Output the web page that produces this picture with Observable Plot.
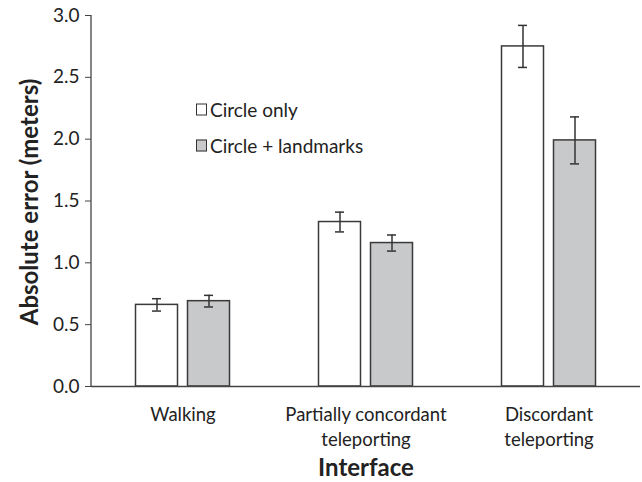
<!DOCTYPE html>
<html><head><meta charset="utf-8">
<script src="https://cdn.jsdelivr.net/npm/d3@7"></script>
<script src="https://cdn.jsdelivr.net/npm/@observablehq/plot@0.6"></script>
<style>
body{margin:0;background:#fff;}
#wrap{position:relative;width:642px;height:482px;font-family:Lato,sans-serif;color:#222;overflow:hidden;}
#wrap svg{position:absolute;left:0;top:0;}
.ylab{position:absolute;left:28px;top:202px;transform:translate(-50%,-50%) rotate(-90deg);font-weight:bold;font-size:24px;white-space:nowrap;}
.xlab{position:absolute;left:366px;top:466px;transform:translate(-50%,-50%);font-weight:bold;font-size:24px;white-space:nowrap;}
.leg{position:absolute;left:196px;font-size:19px;white-space:nowrap;display:flex;align-items:center;transform:translateY(-50%);}
.sw{width:9px;height:10px;border:1px solid #333;margin-right:3px;}
</style></head><body><div id="wrap"></div>
<script>
const groups = ["Walking", "Partially concordant\nteleporting", "Discordant\nteleporting"];
const seriesNames = ["Circle only", "Circle + landmarks"];
const seriesColors = ["#ffffff", "#c8c9cb"];
const circleOnlyMean = [0.66, 1.33, 2.75];
const circleOnlyErr = [0.05, 0.08, 0.17];
const landmarksMean = [0.69, 1.16, 1.99];
const landmarksErr = [0.047, 0.065, 0.19];
const yTicks = [0, 0.5, 1.0, 1.5, 2.0, 2.5, 3.0];
const yLabel = "Absolute error (meters)";
const xLabel = "Interface";

const rows = groups.flatMap((g, i) => [
  {group: g, series: seriesNames[0], value: circleOnlyMean[i], err: circleOnlyErr[i]},
  {group: g, series: seriesNames[1], value: landmarksMean[i], err: landmarksErr[i]}
]);
const rowsA = rows.filter(d => d.series === seriesNames[0]);
const rowsB = rows.filter(d => d.series === seriesNames[1]);

const yLine = (index, {y}, values, dims) => {
  const l = d3.create("svg:line")
    .attr("x1", dims.marginLeft).attr("x2", dims.marginLeft)
    .attr("y1", y(3)).attr("y2", y(0))
    .attr("stroke", "#444").attr("stroke-width", 1.3);
  return l.node();
};

const barStyle = {stroke: "#3a3a3a", strokeWidth: 1.5};
const errStyle = {stroke: "#333", strokeWidth: 1.5};

function seriesMarks(data, side) {
  // side: -1 left bar, +1 right bar within each group band (band width 183)
  const barIn = side < 0 ? {insetLeft: 44.5, insetRight: 96.5} : {insetLeft: 96.5, insetRight: 44.5};
  const capIn = side < 0 ? {insetLeft: 61, insetRight: 113} : {insetLeft: 113, insetRight: 61};
  return [
    Plot.barY(data, {x: "group", y: "value", fill: "series", ...barStyle, ...barIn}),
    Plot.ruleX(data, {x: "group", y1: d => d.value - d.err, y2: d => d.value + d.err, dx: 26 * side, ...errStyle}),
    Plot.tickY(data, {x: "group", y: d => d.value - d.err, ...errStyle, ...capIn}),
    Plot.tickY(data, {x: "group", y: d => d.value + d.err, ...errStyle, ...capIn})
  ];
}

const chart = Plot.plot({
  width: 642, height: 482,
  marginLeft: 91, marginRight: 2, marginTop: 15, marginBottom: 96,
  style: {fontFamily: "Lato, sans-serif", fontSize: "19px", color: "#222", background: "white"},
  x: {domain: groups, padding: 0, label: null, axis: null},
  y: {domain: [0, 3], axis: null},
  color: {domain: seriesNames, range: seriesColors},
  marks: [
    Plot.axisY({ticks: yTicks, tickFormat: d => d.toFixed(1), tickSize: 6, tickPadding: 6, fontSize: 19, label: null, stroke: "#444"}),
    Plot.axisX({anchor: "bottom", tickSize: 0, tickPadding: 17, fontSize: 18.5, lineHeight: 1.35, label: null}),
    ...seriesMarks(rowsA, -1),
    ...seriesMarks(rowsB, 1),
    Plot.ruleY([0], {stroke: "#444", strokeWidth: 1.5}),
    yLine
  ]
});

const wrap = document.getElementById("wrap");
wrap.appendChild(chart);
const yl = document.createElement("div"); yl.className = "ylab"; yl.textContent = yLabel; wrap.appendChild(yl);
const xl = document.createElement("div"); xl.className = "xlab"; xl.textContent = xLabel; wrap.appendChild(xl);
const legY = [109, 145];
seriesNames.forEach((s, i) => {
  const d = document.createElement("div"); d.className = "leg"; d.style.top = legY[i] + "px";
  const sw = document.createElement("span"); sw.className = "sw"; sw.style.background = seriesColors[i];
  d.appendChild(sw); d.appendChild(document.createTextNode(s)); wrap.appendChild(d);
});
</script></body></html>
